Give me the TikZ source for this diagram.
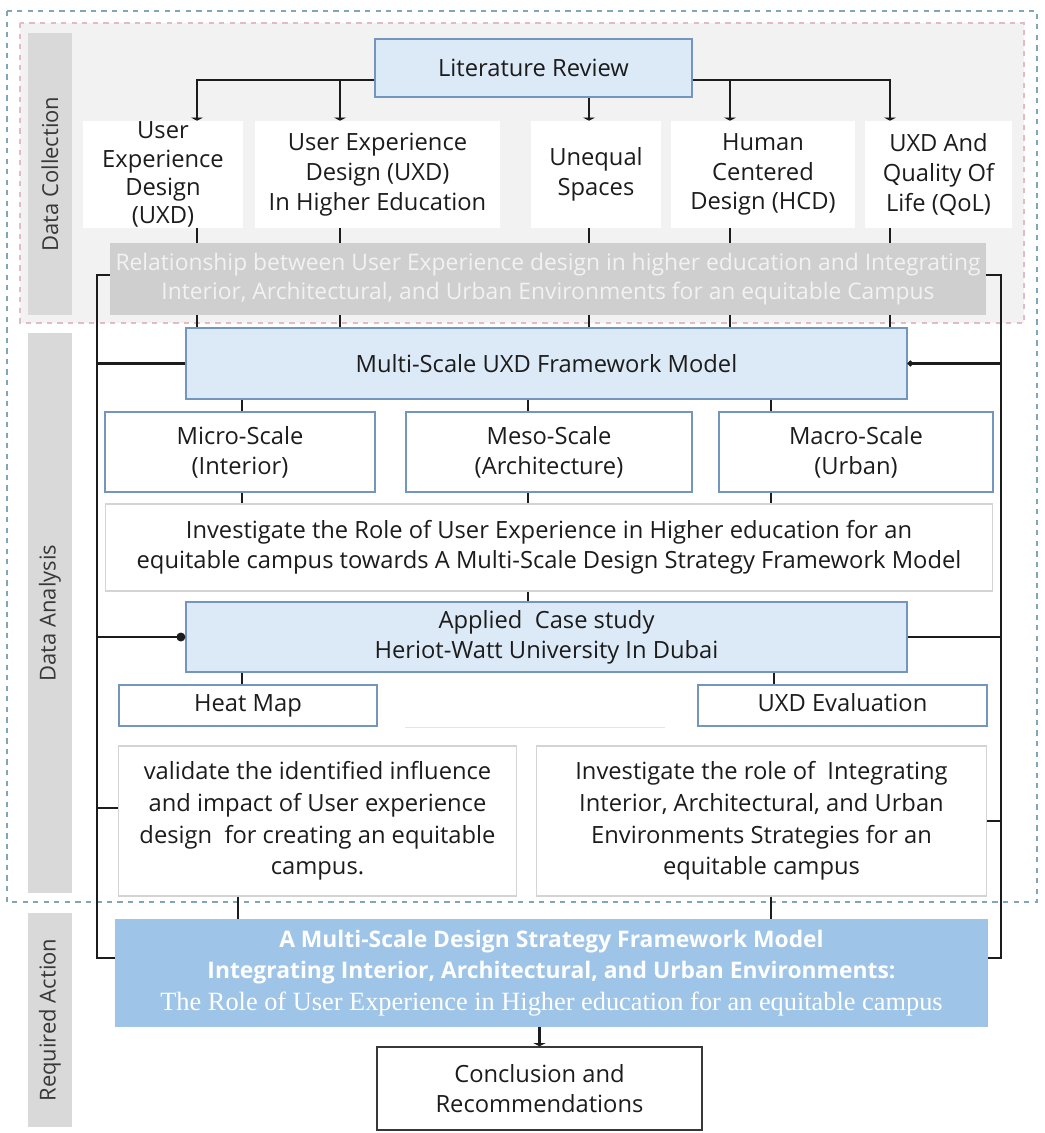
\documentclass[tikz,border=0pt]{standalone}
\usepackage{fontspec}
\setmainfont{Open Sans}
\newfontfamily\serifface{Liberation Serif}
\usetikzlibrary{arrows.meta}

\definecolor{paleblue}{HTML}{DCE9F6}
\definecolor{frameblue}{HTML}{7296BE}
\definecolor{actionblue}{HTML}{9EC4E8}
\definecolor{ink}{HTML}{1C1C1C}
\definecolor{sidegray}{HTML}{D9D9D9}
\definecolor{labelgray}{HTML}{383838}
\definecolor{relgray}{HTML}{CFCFCF}
\definecolor{backgray}{HTML}{F2F2F2}
\definecolor{rulegray}{HTML}{D4D4D4}
\definecolor{tealdash}{HTML}{7FA7B8}
\definecolor{pinkdash}{HTML}{E2BCC4}

\begin{document}
\begin{tikzpicture}[x=0.02cm, y=-0.02cm,
  font=\fontsize{13.5}{17}\selectfont,
  bluebox/.style={draw=frameblue, fill=paleblue, line width=0.9pt, align=center, inner sep=0pt, text=ink},
  plainbox/.style={fill=white, align=center, inner sep=0pt, text=ink},
  scalebox/.style={draw=frameblue, fill=white, line width=0.9pt, align=center, inner sep=0pt, text=ink},
  thinbox/.style={draw=rulegray, fill=white, line width=0.6pt, align=center, inner sep=0pt, text=ink},
  sidelabel/.style={fill=sidegray, rotate=90, text=labelgray, inner sep=0pt, font=\fontsize{12.5}{15}\selectfont},
  link/.style={line width=1.4pt, draw=ink},
  teeend/.style={-{Triangle[length=1.8pt,width=7pt]}},
  dotend/.style={-{Circle[length=5pt]}}]
\useasboundingbox (0,0) rectangle (1045,1133);

% frames
\draw[fill=backgray, draw=pinkdash, dashed, line width=0.6pt] (20,23) rectangle (1024,323);
\draw[draw=tealdash, dashed, line width=0.7pt] (7,11) rectangle (1037,902);

% side labels
\node[sidelabel, minimum width=5.64cm, minimum height=0.88cm] (dc) at (50,174) {Data Collection};
\node[sidelabel, minimum width=11.2cm, minimum height=0.88cm] (da) at (50,613) {Data Analysis};
\node[sidelabel, minimum width=4.28cm, minimum height=0.88cm] (ra) at (50,1020) {Required Action};

% boxes
\node[bluebox, minimum width=6.34cm, minimum height=1.16cm] (lit) at (533.5,68) {Literature Review};

\node[plainbox, minimum width=3.2cm, minimum height=2.14cm, font=\fontsize{13.5}{16}\selectfont] (uxd) at (163,174.5) {User\\Experience\\Design\\(UXD)};
\node[plainbox, minimum width=4.9cm, minimum height=2.14cm] (uxdhe) at (377.5,174.5) {User Experience\\Design (UXD)\\In Higher Education};
\node[plainbox, minimum width=2.6cm, minimum height=2.14cm] (uneq) at (596,174.5) {Unequal\\Spaces};
\node[plainbox, minimum width=3.68cm, minimum height=2.14cm] (hcd) at (763,174.5) {Human\\Centered\\Design (HCD)};
\node[plainbox, minimum width=2.94cm, minimum height=2.14cm] (qol) at (938.5,174.5) {UXD And\\Quality Of\\Life (QoL)};

\node[fill=relgray, text=backgray, align=center, inner sep=0pt, minimum width=17.52cm, minimum height=1.44cm, font=\fontsize{13}{17}\selectfont] (rel) at (548,279)
  {Relationship between User Experience design in higher education and Integrating\\Interior, Architectural, and Urban Environments for an equitable Campus};

\node[bluebox, minimum width=14.42cm, minimum height=1.42cm] (msm) at (546.5,363.5) {Multi-Scale UXD Framework Model};

\node[scalebox, minimum width=5.4cm, minimum height=1.6cm] (micro) at (240,452) {Micro-Scale\\(Interior)};
\node[scalebox, minimum width=5.72cm, minimum height=1.6cm] (meso) at (549,452) {Meso-Scale\\(Architecture)};
\node[scalebox, minimum width=5.48cm, minimum height=1.6cm] (macro) at (856,452) {Macro-Scale\\(Urban)};

\node[thinbox, minimum width=17.76cm, minimum height=1.74cm] (inv) at (549,547.5)
  {Investigate the Role of User Experience in Higher education for an\\equitable campus towards A Multi-Scale Design Strategy Framework Model};

\node[bluebox, minimum width=14.42cm, minimum height=1.4cm] (case) at (546.5,637) {Applied\ \ Case study\\Heriot-Watt University In Dubai};

\node[scalebox, minimum width=5.16cm, minimum height=0.82cm, text height=1.6ex, text depth=0.4ex] (heat) at (248,705.5) {Heat Map};
\node[scalebox, minimum width=5.78cm, minimum height=0.82cm, text height=1.6ex, text depth=0.4ex] (uxdev) at (842.5,705.5) {UXD Evaluation};
\draw[rulegray!60, line width=0.5pt] (405,727) -- (665,727);

\node[thinbox, minimum width=7.98cm, minimum height=3cm, font=\fontsize{13.5}{18}\selectfont] (valid) at (317.5,821)
  {validate the identified influence\\and impact of User experience\\design\ \ for creating an equitable\\campus.};
\node[thinbox, minimum width=9.02cm, minimum height=3cm, font=\fontsize{13.5}{18}\selectfont] (role) at (761.5,821)
  {Investigate the role of\ \ Integrating\\Interior, Architectural, and Urban\\Environments Strategies for an\\equitable campus};

\node[fill=actionblue, text=white, align=center, inner sep=0pt, minimum width=17.46cm, minimum height=2.16cm, font=\fontsize{13}{18}\selectfont] (req) at (551.5,973)
  {\textbf{A Multi-Scale Design Strategy Framework Model}\\\textbf{Integrating Interior, Architectural, and Urban Environments:}\\{\serifface\fontsize{15}{18}\selectfont The Role of User Experience in Higher education for an equitable campus}};

\node[draw=labelgray, fill=white, line width=0.9pt, align=center, inner sep=0pt, text=ink, minimum width=6.5cm, minimum height=1.66cm] (concl) at (539.5,1088.5) {Conclusion and\\Recommendations};

% connectors
\draw[link, teeend] ([yshift=-0.24cm]lit.west) -| (197,0 |- uxd.north);
\draw[link, teeend] ([yshift=-0.24cm]lit.west) -| (340,0 |- uxdhe.north);
\draw[link, teeend] (lit.south -| 589,0) -- (589,0 |- uneq.north);
\draw[link, teeend] ([yshift=-0.24cm]lit.east) -| (730,0 |- hcd.north);
\draw[link, teeend] ([yshift=-0.24cm]lit.east) -| (890,0 |- qol.north);

\foreach \xx/\topbox in {197/uxd, 340/uxdhe, 589/uneq, 730/hcd, 890/qol} {
  \draw[link] (\topbox.south -| \xx,0) -- (rel.north -| \xx,0);
  \draw[link] (rel.south -| \xx,0) -- (msm.north -| \xx,0);
}

\draw[link] ([yshift=0.08cm]rel.west) -| (97,600) |- ([yshift=0.3cm]req.west);
\draw[link] ([yshift=0.08cm]rel.east) -| (1001,600) |- ([yshift=0.3cm]req.east);

\draw[link] (97,0 |- msm.west) -- (msm.west);
\draw[link, dotend] (97,0 |- case.west) -- (case.west);
\draw[link] ([yshift=0.26cm]valid.west) -- ++(-0.42cm,0);
\draw[link, -{Circle[length=3pt]}] (1001,0 |- msm.east) -- (msm.east);
\draw[link] (1001,0 |- case.east) -- (case.east);
\draw[link] (1001,0 |- role.east) -- (role.east);

\foreach \xx/\scl in {242/micro, 528/meso, 771/macro} {
  \draw[link] (msm.south -| \xx,0) -- (\scl.north -| \xx,0);
  \draw[link] (\scl.south -| \xx,0) -- (inv.north -| \xx,0);
}
\draw[link] (inv.south -| 528,0) -- (case.north -| 528,0);
\draw[link] (case.south -| 242,0) -- (heat.north -| 242,0);
\draw[link] (case.south -| 774,0) -- (uxdev.north -| 774,0);
\draw[link] (valid.south -| 238,0) -- (req.north -| 238,0);
\draw[link] (role.south -| 771,0) -- (req.north -| 771,0);
\draw[link, teeend] (req.south -| concl.north) -- (concl.north);
\end{tikzpicture}
\end{document}
